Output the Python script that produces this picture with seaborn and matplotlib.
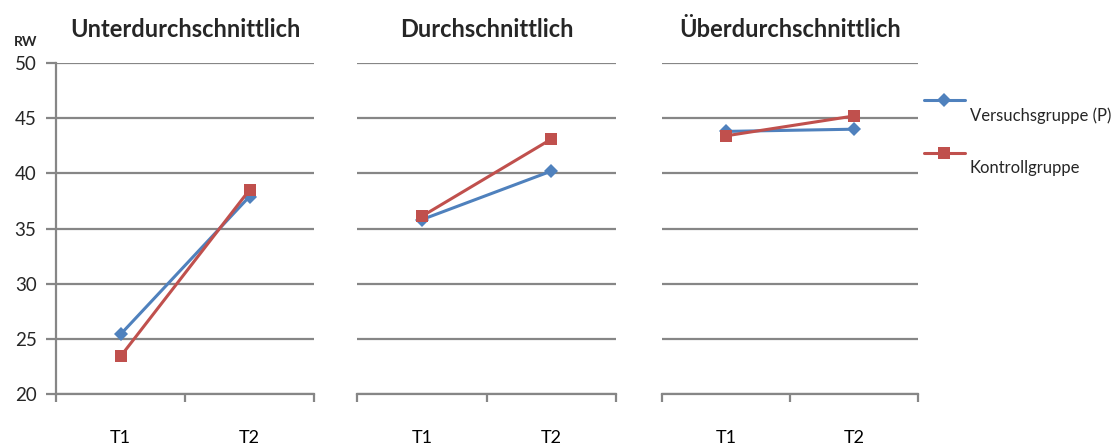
import numpy as np
import pandas as pd
import seaborn as sns
import matplotlib.pyplot as plt
from matplotlib.lines import Line2D

# Data
panels = ["Unterdurchschnittlich", "Durchschnittlich", "Überdurchschnittlich"]
times = ["T1", "T2"]
groups = ["Versuchsgruppe (P)", "Kontrollgruppe"]
versuch = [[25.4, 37.9], [35.8, 40.2], [43.8, 44.0]]
kontroll = [[23.4, 38.5], [36.1, 43.1], [43.4, 45.2]]
yticks = [20, 25, 30, 35, 40, 45, 50]

BLUE = "#4F81BD"
RED = "#C0504D"
GRID = "#868686"

sns.set_style("white")
plt.rcParams["font.family"] = ["Lato", "DejaVu Sans"]

rows = []
for p, name in enumerate(panels):
    for t, tname in enumerate(times):
        rows.append({"panel": name, "time": tname, "pos": t + 0.5,
                     "group": groups[0], "value": versuch[p][t]})
        rows.append({"panel": name, "time": tname, "pos": t + 0.5,
                     "group": groups[1], "value": kontroll[p][t]})
df = pd.DataFrame(rows)

W, H = 1119, 448
fig = plt.figure(figsize=(W / 100, H / 100), dpi=100)

# axes boxes in pixels: (left, right)
boxes = [(56, 314), (357, 616), (662, 918)]
top_px, bot_px = 63, 394

styles = {groups[0]: dict(color=BLUE, marker="D", markersize=7.5),
          groups[1]: dict(color=RED, marker="s", markersize=8.5)}

for i, (name, (l, r)) in enumerate(zip(panels, boxes)):
    ax = fig.add_axes([l / W, (H - bot_px) / H, (r - l) / W, (bot_px - top_px) / H])
    sub = df[df["panel"] == name]
    for g in groups:
        st = styles[g]
        sns.lineplot(data=sub[sub["group"] == g], x="pos", y="value", ax=ax,
                     color=st["color"], marker=st["marker"],
                     markersize=st["markersize"], markeredgewidth=0,
                     linewidth=2.2, legend=False, clip_on=False, zorder=3)
    ax.set_xlim(0, 2)
    ax.set_ylim(20, 50)
    ax.set_yticks(yticks)
    ax.yaxis.grid(True, color=GRID, linewidth=1.6)
    ax.set_axisbelow(True)
    ax.set_xticks([0, 1, 2])
    ax.set_xticklabels([])
    ax.set_xticks([0.5, 1.5], minor=True)
    ax.set_xticklabels(times, minor=True)
    ax.tick_params(axis="x", which="major", length=6, width=1.6, color=GRID,
                   direction="out", bottom=True)
    ax.tick_params(axis="x", which="minor", length=0, pad=26, labelsize=13,
                   labelcolor="#000000")
    ax.set_xlabel("")
    ax.set_ylabel("")
    for s in ["top", "right"]:
        ax.spines[s].set_visible(False)
    ax.spines["bottom"].set_color(GRID)
    ax.spines["bottom"].set_linewidth(1.6)
    if i == 0:
        ax.spines["left"].set_color(GRID)
        ax.spines["left"].set_linewidth(1.6)
        ax.tick_params(axis="y", length=7, width=1.6, color=GRID, left=True,
                       labelsize=13.5, pad=7)
    else:
        ax.spines["left"].set_visible(False)
        ax.tick_params(axis="y", length=0, labelleft=False)
    ax.set_title(name, fontsize=17, fontweight="bold", pad=19)

fig.text(26 / W, 1 - 42 / H, "RW", fontsize=10, fontweight="bold",
         ha="center", va="center")

# Legend
leg_items = [(groups[0], BLUE, "D", 7.5, 100, 116),
             (groups[1], RED, "s", 8.5, 153, 168)]
for label, col, mk, ms, ly, ty in leg_items:
    fig.add_artist(Line2D([924 / W, 965 / W], [1 - ly / H, 1 - ly / H],
                          color=col, linewidth=2.2, transform=fig.transFigure))
    fig.add_artist(Line2D([944 / W], [1 - ly / H], color=col, marker=mk,
                          markersize=ms, markeredgewidth=0,
                          transform=fig.transFigure))
    fig.text(970 / W, 1 - ty / H, label, fontsize=12, ha="left", va="center")

fig.savefig("out.png", dpi=100)
